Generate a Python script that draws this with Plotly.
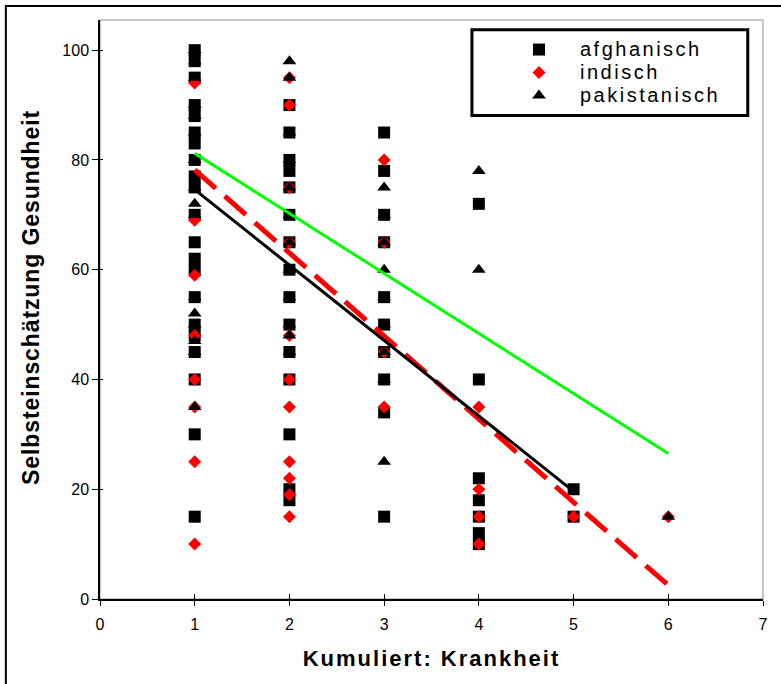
import plotly.graph_objects as go

# Kumulierte Krankheit (x) vs. Selbsteinschätzung Gesundheit (y), je Gruppe
afg_x = [1]*21 + [2]*15 + [3]*10 + [4]*7 + [5]*2
afg_y = [100, 98, 95, 90, 88, 85, 83, 80, 77, 75, 70, 65, 62, 60, 55, 50, 48, 45, 40, 30, 15,
         90, 85, 80, 78, 75, 70, 65, 60, 55, 50, 45, 40, 30, 20, 18,
         85, 78, 70, 65, 55, 50, 45, 40, 34, 15,
         72, 40, 22, 18, 15, 12, 10,
         20, 15]

ind_x = [1]*8 + [2]*11 + [3]*4 + [4]*4 + [5] + [6]
ind_y = [94, 69, 59, 48, 40, 35, 25, 10,
         95, 90, 75, 65, 48, 40, 35, 25, 22, 19, 15,
         80, 65, 45, 35,
         35, 20, 15, 10,
         15,
         15]

pak_x = [1]*16 + [2]*12 + [3]*9 + [4]*2 + [6]
pak_y = [100, 98, 95, 90, 88, 85, 80, 75, 72, 70, 55, 52, 50, 47, 45, 35,
         98, 95, 85, 80, 75, 70, 65, 60, 55, 50, 48, 45,
         75, 70, 65, 60, 55, 50, 45, 40, 25,
         78, 60,
         15]

# Lineare Trends je Gruppe (Endpunkte)
afg_fit_x, afg_fit_y = [1, 5], [74.6, 19.6]
ind_fit_x, ind_fit_y = [1, 6], [78.2, 2.5]
pak_fit_x, pak_fit_y = [1, 6], [81.2, 26.5]

x_ticks = [0, 1, 2, 3, 4, 5, 6, 7]
y_ticks = [0, 20, 40, 60, 80, 100]

FONT = "Liberation Sans, Arial, sans-serif"


def spaced(text, size, spacing):
    return f"<span style='font-size:{size}px;letter-spacing:{spacing}px'>{text}</span>"


fig = go.Figure()

fig.add_trace(go.Scatter(x=afg_x, y=afg_y, mode="markers", name=spaced("afghanisch", 20, 2.5),
                         marker=dict(symbol="square", size=12, color="black")))
fig.add_trace(go.Scatter(x=ind_x, y=ind_y, mode="markers", name=spaced("indisch", 20, 2.5),
                         marker=dict(symbol="diamond", size=10, color="#ff0000")))
fig.add_trace(go.Scatter(x=pak_x, y=pak_y, mode="markers", name=spaced("pakistanisch", 20, 2.5),
                         marker=dict(symbol="triangle-up", size=12, color="black")))

fig.add_trace(go.Scatter(x=pak_fit_x, y=pak_fit_y, mode="lines", showlegend=False,
                         line=dict(color="#00ff00", width=3)))
fig.add_trace(go.Scatter(x=ind_fit_x, y=ind_fit_y, mode="lines", showlegend=False,
                         line=dict(color="#ff0000", width=5, dash="28px,12px")))
fig.add_trace(go.Scatter(x=afg_fit_x, y=afg_fit_y, mode="lines", showlegend=False,
                         line=dict(color="black", width=3)))

# hidden twin axes give the crossing tick marks
fig.add_trace(go.Scatter(x=[0], y=[0], xaxis="x2", yaxis="y2", mode="markers",
                         marker=dict(opacity=0), showlegend=False, hoverinfo="skip"))

fig.update_layout(
    width=781, height=684,
    margin=dict(l=100, r=18, t=20, b=85),
    paper_bgcolor="white", plot_bgcolor="white",
    font=dict(family=FONT, color="black"),
    xaxis=dict(range=[0, 7], tickvals=x_ticks, showgrid=False, zeroline=False,
               showline=True, linecolor="black", linewidth=1.5,
               ticks="outside", ticklen=5, tickcolor="black", tickwidth=1,
               tickfont=dict(size=16), ticklabelstandoff=5,
               title=dict(text="<b>" + spaced("Kumuliert: Krankheit", 22, 2) + "</b>",
                          font=dict(size=22), standoff=19)),
    yaxis=dict(range=[0, 105.5], tickvals=y_ticks, showgrid=False, zeroline=False,
               showline=True, linecolor="black", linewidth=1.5,
               ticks="outside", ticklen=6, tickcolor="black", tickwidth=1,
               tickfont=dict(size=16)),
    xaxis2=dict(overlaying="x", matches="x", tickvals=x_ticks, showticklabels=False,
                ticks="inside", ticklen=5, tickcolor="black", showgrid=False,
                zeroline=False, showline=False),
    yaxis2=dict(overlaying="y", matches="y", tickvals=y_ticks, showticklabels=False,
                ticks="inside", ticklen=3, tickcolor="black", showgrid=False,
                zeroline=False, showline=False),
    annotations=[
        dict(text="<b>" + spaced("Selbsteinschätzung Gesundheit", 23, 0.9) + "</b>",
             xref="paper", yref="paper", x=-0.104, y=0.52, textangle=-90,
             showarrow=False, font=dict(size=23), xanchor="center", yanchor="middle"),
    ],
    legend=dict(x=0.6003, y=0.9775, xanchor="left", yanchor="top",
                bgcolor="rgba(0,0,0,0)", borderwidth=0,
                font=dict(size=15.4), itemwidth=72, tracegroupgap=0),
    shapes=[
        # outer chart frame
        dict(type="rect", xref="paper", yref="paper", x0=-0.142, x1=1.1, y0=-0.3, y1=1.024,
             line=dict(color="black", width=2), layer="below"),
        # plot-area border
        dict(type="rect", xref="paper", yref="paper", x0=0, x1=1, y0=0, y1=1,
             line=dict(color="#8c8c8c", width=1), layer="below"),
        # legend box
        dict(type="rect", xref="paper", yref="paper", x0=0.561, x1=0.977, y0=0.835, y1=0.983,
             line=dict(color="black", width=3), fillcolor="white", layer="above"),
    ],
)

fig.write_html("out.html")
